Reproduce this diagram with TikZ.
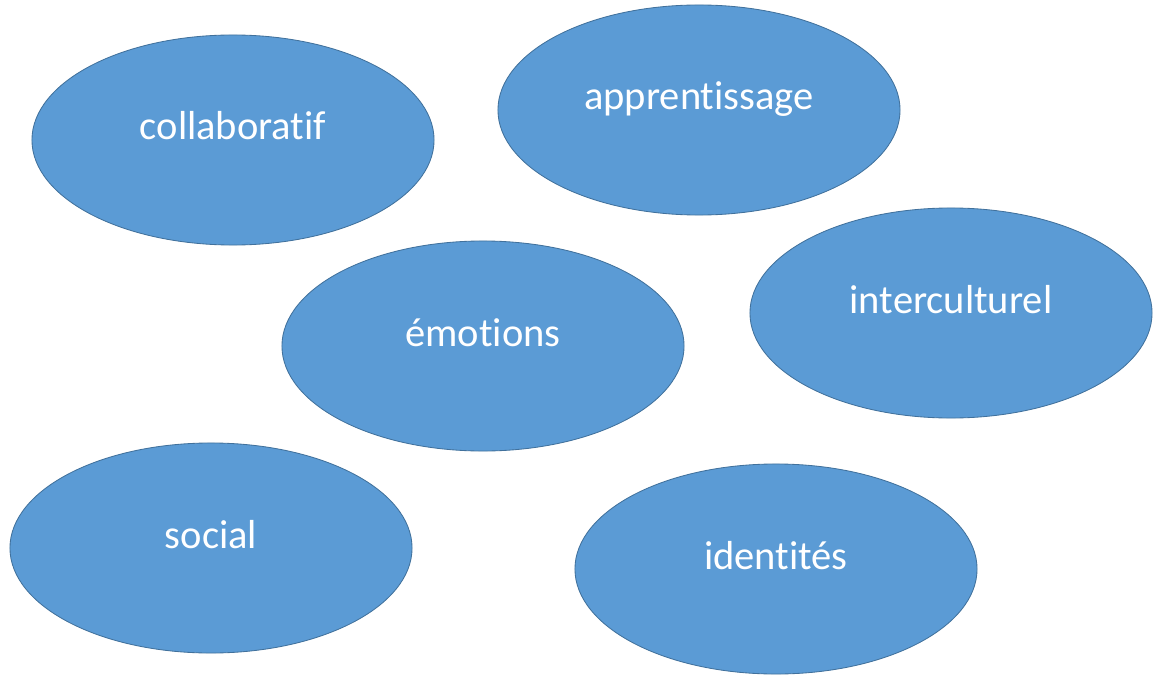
\documentclass[tikz,border=0pt]{standalone}
\usepackage{fontspec}
\setmainfont{Carlito}[Ligatures={NoCommon,NoDiscretionary,NoContextual}]
\usepackage{tikz}
\usetikzlibrary{shapes.geometric}
\definecolor{bubblefill}{HTML}{5B9BD5}
\definecolor{bubbleline}{HTML}{41719C}
\tikzstyle{bubble} = [ellipse, minimum width=10.05cm, minimum height=5.25cm, text height=0pt, text depth=0pt, draw=bubbleline, line width=0.6pt, fill=bubblefill, text=white, font=\fontsize{28.8}{34}\selectfont]

\begin{document}
\begin{tikzpicture}[x=0.025cm, y=-0.025cm]
\useasboundingbox (0,0) rectangle (1163,676);
\node (collab) [bubble] at (233,140) {collaboratif};
\node (appr) [bubble] at (699,110) {apprentissage};
\node (emo) [bubble] at (483,346) {émotions};
\node (inter) [bubble] at (951,313) {interculturel};
\node (soc) [bubble] at (211,548) {social};
\node (ident) [bubble] at (776,569) {identités};
\end{tikzpicture}
\end{document}
